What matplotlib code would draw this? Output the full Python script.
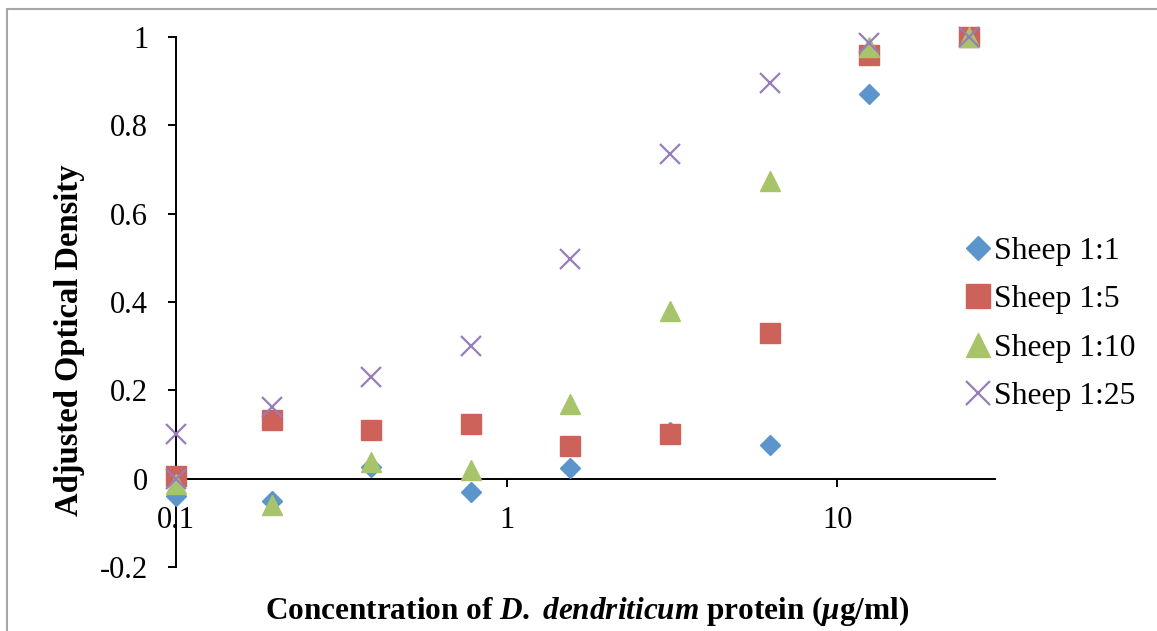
import matplotlib
matplotlib.use("Agg")
import matplotlib.pyplot as plt
from matplotlib.patches import Rectangle
from matplotlib.ticker import FixedLocator, NullLocator

plt.rcParams['font.family'] = ['Liberation Serif', 'DejaVu Serif']
plt.rcParams['mathtext.fontset'] = 'custom'
plt.rcParams['mathtext.rm'] = 'Liberation Serif:bold'
plt.rcParams['mathtext.it'] = 'Liberation Serif:italic:bold'
plt.rcParams['mathtext.bf'] = 'Liberation Serif:bold'

# Data
conc = [0.1, 0.195, 0.39, 0.78, 1.56, 3.125, 6.25, 12.5, 25]
sheep_1_1 = [-0.04, -0.05, 0.027, -0.03, 0.025, 0.106, 0.077, 0.87, 1.0]
sheep_1_5 = [0.005, 0.133, 0.11, 0.124, 0.073, 0.10, 0.33, 0.96, 1.0]
sheep_1_10 = [-0.012, -0.06, 0.038, 0.02, 0.17, 0.38, 0.674, 0.977, 1.0]
conc_1_25 = [0.1, 0.1, 0.195, 0.39, 0.78, 1.56, 3.125, 6.25, 12.5, 25]
sheep_1_25 = [0.0, 0.10, 0.163, 0.23, 0.30, 0.498, 0.735, 0.896, 0.986, 1.0]
labels = ["Sheep 1:1", "Sheep 1:5", "Sheep 1:10", "Sheep 1:25"]
x_ticks = [0.1, 1, 10]
x_ticklabels = ["0.1", "1", "10"]
y_ticks = [-0.2, 0, 0.2, 0.4, 0.6, 0.8, 1]
y_ticklabels = ["-0.2", "0", "0.2", "0.4", "0.6", "0.8", "1"]

W, H = 1157, 631
fig = plt.figure(figsize=(W / 100, H / 100), dpi=100)
ax = fig.add_axes([176 / W, 1 - 567 / H, (995 - 176) / W, (567 - 37) / H])

c_blue = '#5B95CC'
c_red = '#CD625A'
c_green = '#A8C46A'
c_purple = '#977DBC'

ax.plot(conc, sheep_1_1, linestyle='none', marker='D', ms=10, color=c_blue, label=labels[0], zorder=3, clip_on=False)
ax.plot(conc, sheep_1_5, linestyle='none', marker='s', ms=14, color=c_red, label=labels[1], zorder=4, clip_on=False)
ax.plot(conc, sheep_1_10, linestyle='none', marker='^', ms=14, color=c_green, label=labels[2], zorder=5, clip_on=False)
ax.plot(conc_1_25, sheep_1_25, linestyle='none', marker='x', ms=14, mew=1.6, color=c_purple, label=labels[3], zorder=6, clip_on=False)

ax.set_xscale('log')
ax.set_xlim(0.1, 30)
ax.set_ylim(-0.2, 1)

ax.spines['top'].set_visible(False)
ax.spines['right'].set_visible(False)
ax.spines['bottom'].set_position(('data', 0))
ax.spines['left'].set_linewidth(1.4)
ax.spines['bottom'].set_linewidth(1.4)
ax.spines['left'].set_zorder(2)
ax.spines['bottom'].set_zorder(2)

ax.xaxis.set_major_locator(FixedLocator(x_ticks))
ax.xaxis.set_minor_locator(NullLocator())
ax.set_xticklabels(x_ticklabels)
ax.set_yticks(y_ticks)
ax.set_yticklabels(y_ticklabels)
ax.tick_params(axis='x', direction='out', length=6, width=1.4, pad=14, labelsize=22)
ax.tick_params(axis='y', direction='out', length=6, width=1.4, pad=14, labelsize=22)

fig.text(70 / W, 1 - 340 / H, "Adjusted Optical Density", rotation=90,
         ha='center', va='center', fontsize=23.5, fontweight='bold')
fig.text(587 / W, 1 - 611 / H,
         r"Concentration of $\mathit{D.}$ $\mathit{dendriticum}$ protein ($\mathit{\mu}$g/ml)",
         ha='center', va='center', fontsize=22.5, fontweight='bold')

leg = ax.legend(loc='center left', bbox_to_anchor=(948 / W, 1 - 324 / H),
                bbox_transform=fig.transFigure, frameon=False, fontsize=22.8,
                handlelength=0.9, handletextpad=0.05, labelspacing=0.6,
                borderpad=0, markerscale=1.25)

fig.add_artist(Rectangle((7 / W, -0.1), 1.2, 1 - 9 / H + 0.1, transform=fig.transFigure,
                         fill=False, edgecolor='#A6A6A6', linewidth=1.5))

fig.savefig('out.png', dpi=100)
